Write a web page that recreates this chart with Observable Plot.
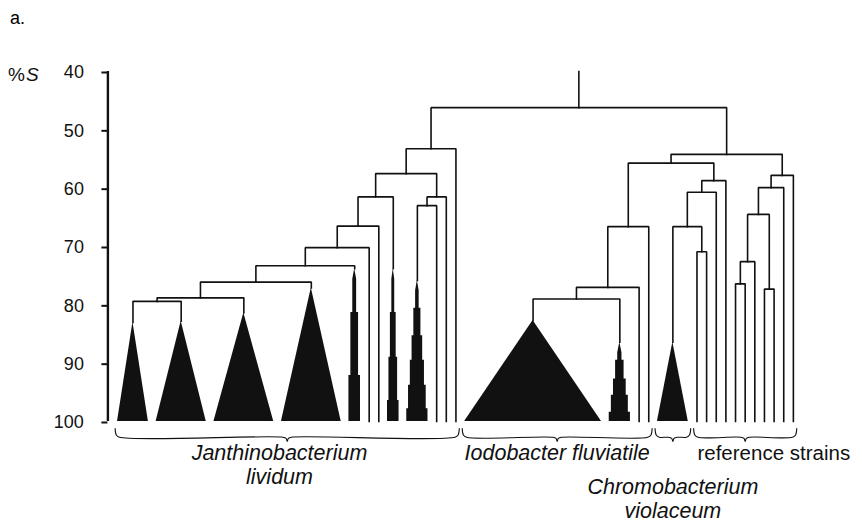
<!DOCTYPE html>
<html>
<head>
<meta charset="utf-8">
<script src="https://cdn.jsdelivr.net/npm/d3@7"></script>
<script src="https://cdn.jsdelivr.net/npm/@observablehq/plot@0.6"></script>
<style>
  body { margin: 0; background: #fff; }
  #fig { position: relative; width: 862px; height: 523px; font-family: "Liberation Sans", Arial, sans-serif; color: #000; }
  #panel { position: absolute; left: 10px; top: 8px; font-size: 18px; z-index: 1; }
  #fig svg { position: absolute; left: 0; top: 0; }
</style>
</head>
<body>
<div id="fig"><div id="panel">a.</div></div>
<script>
// Number of strains in each leaf of the dendrogram, left to right
const leafStrains = [4, 6, 7, 7, 2, 1, 1, 2, 3, 1, 1, 1, 15, 3, 1, 1, 4, 1, 1, 1, 1, 1, 1, 1, 1, 1, 1, 1];
// "tri" = collapsed cluster, "step" = tight cluster with internal levels, "line" = single strain
const leafKind = ["tri", "tri", "tri", "tri", "step", "line", "line", "step", "step", "line", "line", "line",
                  "tri", "step", "line", "line", "tri",
                  "line", "line", "line", "line", "line", "line", "line", "line", "line", "line", "line"];
// %S at which each cluster begins (apex); single strains run to 100
const leafApex = [83.0, 82.8, 81.4, 77.1, 73.8, null, null, 73.8, 75.8, null, null, null,
                  82.7, 86.4, null, null, 86.4,
                  null, null, null, null, null, null, null, null, null, null, null];
// Internal %S levels of the tight (stepped) clusters, keyed by leaf index
const stepLevels = {
  4: [73.8, 81.3, 92.1],
  7: [73.8, 81.3, 89.0, 96.4],
  8: [75.8, 80.6, 85.3, 89.5, 93.8, 97.8],
  13: [86.4, 89.5, 92.7, 95.5, 98.4]
};
// Fusions: [left, right, %S]; ids below 28 are leaves, 28 + k is fusion k
const merges = [
  [0, 1, 79.4], [28, 2, 78.8], [29, 3, 76.1], [30, 4, 73.3], [31, 5, 70.2], [32, 6, 66.5],
  [33, 7, 61.5], [8, 9, 63.0], [35, 10, 61.5], [34, 36, 57.5], [37, 11, 53.25],
  [12, 13, 79.0], [39, 14, 77.0], [40, 15, 66.6],
  [17, 18, 70.9], [16, 42, 66.6], [43, 19, 60.7], [44, 20, 58.7], [41, 45, 55.7],
  [21, 22, 76.4], [47, 23, 72.6], [24, 25, 77.3], [48, 49, 64.5], [50, 26, 59.9], [51, 27, 57.8],
  [46, 52, 54.2], [38, 53, 46.2]
];
const rootTop = 40;
const yTicks = [40, 50, 60, 70, 80, 90, 100];

// Species groups shown with braces under the leaves
const groupLines = [["Janthinobacterium", "lividum"], ["Iodobacter fluviatile"], ["Chromobacterium", "violaceum"], ["reference strains"]];
const groupFirstLeaf = [0, 12, 16, 17];
const groupLastLeaf = [11, 15, 16, 27];
const groupItalic = [true, true, true, false];

// ---- layout of the tree ----
const nLeaves = leafStrains.length;
const leafStart = [0];
leafStrains.forEach((n, i) => leafStart.push(leafStart[i] + n));
const totalStrains = leafStart[nLeaves];

const nodeX = [], nodeTop = [];
leafStrains.forEach((n, i) => { nodeX[i] = leafStart[i] + n / 2; nodeTop[i] = leafApex[i] ?? 100; });
merges.forEach(([a, b, s], k) => { nodeX[nLeaves + k] = (nodeX[a] + nodeX[b]) / 2; nodeTop[nLeaves + k] = s; });
const rootId = nLeaves + merges.length - 1;

// branch polylines
const branches = [];
merges.forEach(([a, b, s], k) => {
  branches.push({x: nodeX[a], y: nodeTop[a], z: k}, {x: nodeX[a], y: s, z: k},
                {x: nodeX[b], y: s, z: k}, {x: nodeX[b], y: nodeTop[b], z: k});
});
branches.push({x: nodeX[rootId], y: nodeTop[rootId], z: "root"}, {x: nodeX[rootId], y: rootTop, z: "root"});

// collapsed clusters as triangles
const triangles = [];
leafKind.forEach((kind, i) => {
  if (kind !== "tri") return;
  const hw = (leafStrains[i] - 0.8) / 2, c = nodeX[i];
  triangles.push({x: c - hw, y1: 100, y2: 100, z: i}, {x: c, y1: 100, y2: leafApex[i], z: i},
                 {x: c + hw, y1: 100, y2: 100, z: i});
});

// tight clusters as stepped towers
const towers = [];
leafKind.forEach((kind, i) => {
  if (kind !== "step") return;
  const L = stepLevels[i], m = L.length, base = leafStrains[i] - 0.8, c = nodeX[i];
  towers.push({y: L[0], x1: c, x2: c, z: i});
  L.forEach((lev, k) => {
    const w = base / 2 * (k + 1) / m;
    const from = k === 0 ? lev + 1.8 : lev;
    const to = k + 1 < m ? L[k + 1] : 100;
    towers.push({y: from, x1: c - w, x2: c + w, z: i}, {y: to, x1: c - w, x2: c + w, z: i});
  });
});

// braces under each group, and the group names
const braces = [], labels = [];
groupLines.forEach((lines, g) => {
  const s = leafStart[groupFirstLeaf[g]] + 0.15, e = leafStart[groupLastLeaf[g] + 1] - 0.15, m = (s + e) / 2;
  const pts = [[s, 101.2], [s + 0.12, 102.3], [s + 0.45, 102.7], [m - 0.45, 102.7], [m - 0.12, 102.9], [m, 103.4],
               [m + 0.12, 102.9], [m + 0.45, 102.7], [e - 0.45, 102.7], [e - 0.12, 102.3], [e, 101.2]];
  pts.forEach(([x, y]) => braces.push({x, y, z: g}));
  const last = g === groupLines.length - 1;
  const row0 = g === 2 ? 1.4 : 0;
  const shift = g === 0 ? -0.8 : 0;
  lines.forEach((t, r) => labels.push({
    text: t, x: last ? s + 0.4 : m + shift, row: row0 + r, italic: groupItalic[g], anchor: last ? "start" : "middle"
  }));
});

const ink = "#111";
const labelMarks = [];
[0, 1, 1.4, 2.4].forEach(row => [true, false].forEach(it => {
  const rows = labels.filter(d => d.row === row && d.italic === it);
  if (rows.length) labelMarks.push(Plot.text(rows, {
    x: "x", y: () => 100, dy: 32 + row * 24, text: "text",
    textAnchor: rows[0].anchor, fontSize: it ? 21.5 : 20.5, fill: ink, fontStyle: it ? "italic" : "normal"
  }));
}));

const chart = Plot.plot({
  width: 862,
  height: 523,
  marginLeft: 107.4,
  marginRight: 64.3,
  marginTop: 71,
  marginBottom: 102,
  x: {domain: [-0.6, totalStrains], axis: null},
  y: {domain: [40, 100], reverse: true, axis: null},
  style: {fontFamily: "'Liberation Sans', Arial, sans-serif", background: "transparent", color: ink},
  marks: [
    Plot.axisY(yTicks, {tickSize: 6, tickPadding: 18, fontSize: 18, strokeWidth: 2, label: null, stroke: ink, dy: 1}),
    Plot.ruleX([-0.6], {y1: 40, y2: 100, stroke: ink, strokeWidth: 2.4}),
    Plot.text([rootTop], {y: d => d, frameAnchor: "left", text: () => "%", dx: -83, dy: 3, textAnchor: "end", fontSize: 19, fill: ink}),
    Plot.text([rootTop], {y: d => d, frameAnchor: "left", text: () => "S", dx: -82, dy: 3, textAnchor: "start", fontSize: 19, fontStyle: "italic", fill: ink}),
    Plot.areaY(triangles, {x: "x", y1: "y1", y2: "y2", z: "z", fill: ink}),
    Plot.areaX(towers, {y: "y", x1: "x1", x2: "x2", z: "z", fill: ink}),
    Plot.line(branches, {x: "x", y: "y", z: "z", stroke: ink, strokeWidth: 1.6, strokeLinejoin: "miter", strokeLinecap: "square"}),
    Plot.line(braces, {x: "x", y: "y", z: "z", stroke: ink, strokeWidth: 1.1, curve: "catmull-rom"}),
    ...labelMarks
  ]
});
document.getElementById("fig").appendChild(chart);
</script>
</body>
</html>
